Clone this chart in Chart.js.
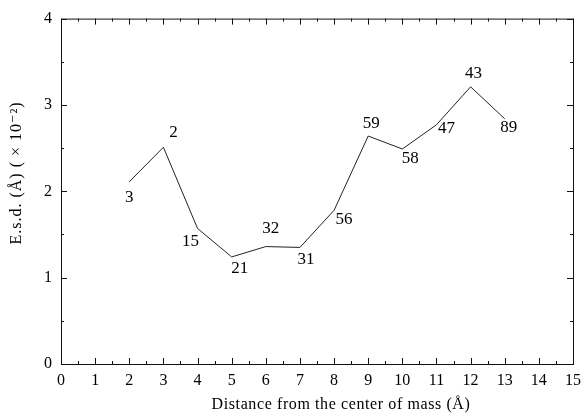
<!DOCTYPE html>
<html><head><meta charset="utf-8">
<script src="https://cdn.jsdelivr.net/npm/chart.js@4"></script>
<style>html,body{margin:0;padding:0;background:#fff}#wrap{width:588px;height:417px}</style>
</head><body><div id="wrap"><canvas id="c"></canvas></div>
<script>
const distances = [2,3,4,5,6,7,8,9,10,11,12,13];
const esdValues = [2.11,2.51,1.57,1.24,1.36,1.35,1.78,2.64,2.49,2.77,3.21,2.84];
const pointLabels = ["3","2","15","21","32","31","56","59","58","47","43","89"];
const xTicks = [0,1,2,3,4,5,6,7,8,9,10,11,12,13,14,15];
const yTicks = [0,1,2,3,4];
const xTitle = 'Distance from the center of mass (Å)';
const yTitle = 'E.s.d. (Å) ( × 10⁻²)';

const labelOffsets = [[0,16],[10,-15],[-7,13],[8,12],[5,-18],[6,12],[10,9],[3,-13],[8,10],[10,4],[3,-13],[4,9]];
const FONT = "'Liberation Serif','DejaVu Serif',serif";

const framePlugin = {
  id:'frame',
  afterDatasetsDraw(chart){
    const {ctx, chartArea:a, scales:{x,y}} = chart;
    ctx.save();
    ctx.strokeStyle='#111'; ctx.lineWidth=1;
    ctx.strokeRect(a.left+0.5,a.top+0.5,a.right-a.left,a.bottom-a.top);
    ctx.beginPath();
    for(let v=0; v<=15; v+=0.5){
      const px=Math.round(x.getPixelForValue(v))+0.5;
      const L = Number.isInteger(v)?6:3;
      ctx.moveTo(px,a.bottom); ctx.lineTo(px,a.bottom-L);
      ctx.moveTo(px,a.top); ctx.lineTo(px,a.top+L);
    }
    for(let v=0; v<=4; v+=0.5){
      const py=Math.round(y.getPixelForValue(v))+0.5;
      const L = Number.isInteger(v)?6:3;
      ctx.moveTo(a.left,py); ctx.lineTo(a.left+L,py);
      ctx.moveTo(a.right,py); ctx.lineTo(a.right-L,py);
    }
    ctx.stroke();
    // point labels
    const meta = chart.getDatasetMeta(0);
    ctx.fillStyle='#000';
    ctx.font = "17px "+FONT;
    ctx.textAlign='center'; ctx.textBaseline='middle';
    meta.data.forEach((pt,i)=>{
      const o=labelOffsets[i];
      ctx.fillText(pointLabels[i], pt.x+o[0], pt.y+o[1]);
    });
    // axis titles
    ctx.font = "16px "+FONT;
    ctx.letterSpacing = '0.6px';
    ctx.fillText(xTitle, 341, 405);
    ctx.save();
    ctx.translate(17,173);
    ctx.rotate(-Math.PI/2);
    ctx.letterSpacing = '1px';
    ctx.fillText(yTitle, 0, 0);
    ctx.restore();
    ctx.restore();
  }
};

new Chart(document.getElementById('c'),{
  type:'line',
  data:{datasets:[{
    data: distances.map((d,i)=>({x:d,y:esdValues[i]})),
    borderColor:'#222', borderWidth:1, pointRadius:0, tension:0, fill:false
  }]},
  options:{
    responsive:true, maintainAspectRatio:false, animation:false,
    layout:{padding:{left:0,top:17,right:10,bottom:0}},
    plugins:{legend:{display:false},tooltip:{enabled:false}},
    scales:{
      x:{type:'linear',min:0,max:15,
        afterBuildTicks(s){s.ticks=xTicks.map(v=>({value:v}));},
        afterFit(s){s.height=53;},
        grid:{display:false,drawTicks:false},border:{display:false},
        ticks:{color:'#000',padding:7,font:{family:FONT,size:16},maxRotation:0,autoSkip:false}
      },
      y:{type:'linear',min:0,max:4,
        afterBuildTicks(s){s.ticks=yTicks.map(v=>({value:v}));},
        afterFit(s){s.width=61;},
        grid:{display:false,drawTicks:false},border:{display:false},
        ticks:{color:'#000',padding:9,font:{family:FONT,size:16}}
      }
    }
  },
  plugins:[framePlugin]
});
</script></body></html>
